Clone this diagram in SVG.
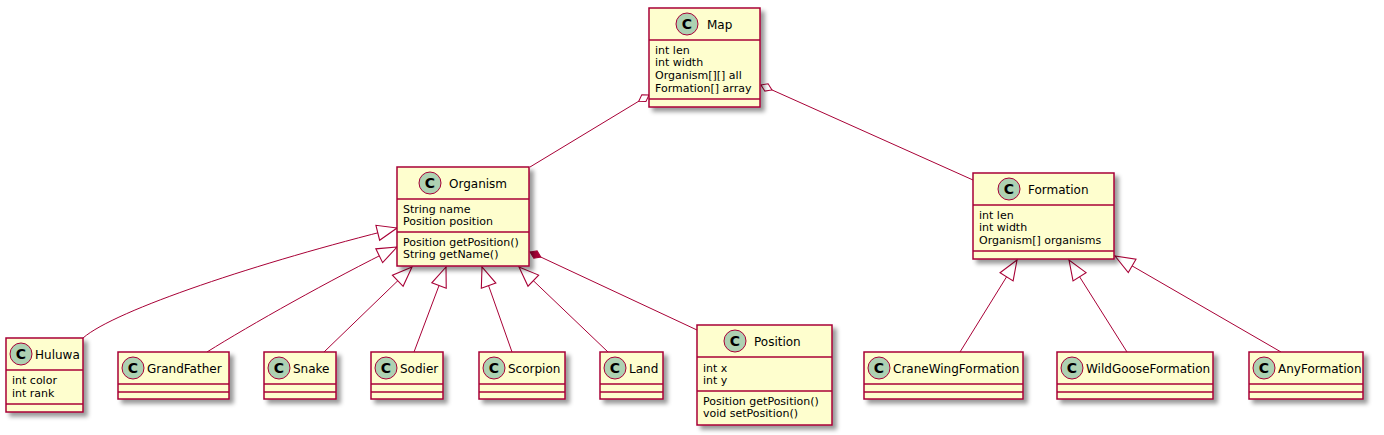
<svg xmlns="http://www.w3.org/2000/svg" width="1384" height="435" viewBox="0 0 1384 435">
<defs>
<filter id="sh" x="-1" y="-1" width="300%" height="300%">
<feGaussianBlur result="b1" stdDeviation="2"/>
<feColorMatrix type="matrix" in="b1" result="b2" values="0 0 0 0 0 0 0 0 0 0 0 0 0 0 0 0 0 0 .4 0"/>
<feOffset dx="4" dy="4" in="b2" result="b3"/>
<feBlend in="SourceGraphic" in2="b3" mode="normal"/>
</filter>
<marker id="tri" markerUnits="userSpaceOnUse" markerWidth="22" markerHeight="18" viewBox="-1 -8 20 16" refX="18" refY="0" orient="auto" overflow="visible">
<path d="M18,0 L0,-7 L0,7 Z" fill="#FFFFFF" stroke="#A80036" stroke-width="1"/>
</marker>
<marker id="agg" markerUnits="userSpaceOnUse" markerWidth="16" markerHeight="12" viewBox="-1 -6 14 12" refX="0" refY="0" orient="auto" overflow="visible">
<path d="M0,0 L6,-4 L12,0 L6,4 Z" fill="#FFFFFF" stroke="#A80036" stroke-width="1"/>
</marker>
<marker id="comp" markerUnits="userSpaceOnUse" markerWidth="16" markerHeight="12" viewBox="-1 -6 14 12" refX="0" refY="0" orient="auto" overflow="visible">
<path d="M0,0 L6,-4 L12,0 L6,4 Z" fill="#A80036" stroke="#A80036" stroke-width="1"/>
</marker>
</defs>
<style>
.box{fill:#FEFECE;stroke:#A80036;stroke-width:1.5;filter:url(#sh)}
.sep{stroke:#A80036;stroke-width:1.5}
.ci{fill:#ADD1B2;stroke:#A80036;stroke-width:1}
.cl{font-family:"DejaVu Sans",sans-serif;font-size:14px;font-weight:bold;fill:#000;text-anchor:middle}
.nm{font-family:"DejaVu Sans",sans-serif;font-size:12px;fill:#000}
.at{font-family:"DejaVu Sans",sans-serif;font-size:11px;fill:#000}
.ln{fill:none;stroke:#A80036;stroke-width:1}
</style>

<g id="connectors">
<path class="ln" d="M649,95 L530,167" marker-start="url(#agg)"/>
<path class="ln" d="M761,85 L973,180" marker-start="url(#agg)"/>
<path class="ln" d="M530,252 L697,330" marker-start="url(#comp)"/>
<path class="ln" d="M83,338 C115,310 260,262 397,228" marker-end="url(#tri)"/>
<path class="ln" d="M207,352 C250,325 330,280 397,247" marker-end="url(#tri)"/>
<path class="ln" d="M324,352 L412,267" marker-end="url(#tri)"/>
<path class="ln" d="M414,352 L446,267" marker-end="url(#tri)"/>
<path class="ln" d="M512,352 L482,267" marker-end="url(#tri)"/>
<path class="ln" d="M608,352 L519,267" marker-end="url(#tri)"/>
<path class="ln" d="M960,352 L1017,260" marker-end="url(#tri)"/>
<path class="ln" d="M1127,352 L1069,260" marker-end="url(#tri)"/>
<path class="ln" d="M1281,352 L1115,256" marker-end="url(#tri)"/>
</g>

<g id="Map">
<rect class="box" x="649" y="8" width="111" height="99"/>
<circle class="ci" cx="687" cy="24" r="11"/><text class="cl" x="687" y="29">C</text>
<text class="nm" x="707" y="29">Map</text>
<line class="sep" x1="649" y1="40" x2="760" y2="40"/>
<text class="at" x="655" y="53.5">int len</text>
<text class="at" x="655" y="66.4">int width</text>
<text class="at" x="655" y="79.3">Organism[][] all</text>
<text class="at" x="655" y="92.2">Formation[] array</text>
<line class="sep" x1="649" y1="99" x2="760" y2="99"/>
</g>

<g id="Organism">
<rect class="box" x="397" y="167" width="132" height="99"/>
<circle class="ci" cx="430" cy="183" r="11"/><text class="cl" x="430" y="188">C</text>
<text class="nm" x="449" y="188">Organism</text>
<line class="sep" x1="397" y1="199" x2="529" y2="199"/>
<text class="at" x="403" y="212.5">String name</text>
<text class="at" x="403" y="225.4">Position position</text>
<line class="sep" x1="397" y1="232" x2="529" y2="232"/>
<text class="at" x="403" y="245.5">Position getPosition()</text>
<text class="at" x="403" y="258.4">String getName()</text>
</g>

<g id="Formation">
<rect class="box" x="973" y="173" width="141" height="86"/>
<circle class="ci" cx="1009" cy="189" r="11"/><text class="cl" x="1009" y="194">C</text>
<text class="nm" x="1028" y="194">Formation</text>
<line class="sep" x1="973" y1="205" x2="1114" y2="205"/>
<text class="at" x="979" y="218.5">int len</text>
<text class="at" x="979" y="231.4">int width</text>
<text class="at" x="979" y="244.3">Organism[] organisms</text>
<line class="sep" x1="973" y1="251" x2="1114" y2="251"/>
</g>

<g id="Huluwa">
<rect class="box" x="6" y="338" width="77" height="74"/>
<circle class="ci" cx="21" cy="354" r="11"/><text class="cl" x="21" y="359">C</text>
<text class="nm" x="35" y="359">Huluwa</text>
<line class="sep" x1="6" y1="370" x2="83" y2="370"/>
<text class="at" x="12" y="384">int color</text>
<text class="at" x="12" y="397">int rank</text>
<line class="sep" x1="6" y1="404" x2="83" y2="404"/>
</g>

<g id="GrandFather">
<rect class="box" x="118" y="352" width="111" height="47"/>
<circle class="ci" cx="133" cy="368" r="11"/><text class="cl" x="133" y="373">C</text>
<text class="nm" x="147" y="373">GrandFather</text>
<line class="sep" x1="118" y1="384" x2="229" y2="384"/>
<line class="sep" x1="118" y1="392" x2="229" y2="392"/>
</g>

<g id="Snake">
<rect class="box" x="264" y="352" width="72" height="47"/>
<circle class="ci" cx="279" cy="368" r="11"/><text class="cl" x="279" y="373">C</text>
<text class="nm" x="293" y="373">Snake</text>
<line class="sep" x1="264" y1="384" x2="336" y2="384"/>
<line class="sep" x1="264" y1="392" x2="336" y2="392"/>
</g>

<g id="Sodier">
<rect class="box" x="371" y="352" width="72" height="47"/>
<circle class="ci" cx="386" cy="368" r="11"/><text class="cl" x="386" y="373">C</text>
<text class="nm" x="400" y="373">Sodier</text>
<line class="sep" x1="371" y1="384" x2="443" y2="384"/>
<line class="sep" x1="371" y1="392" x2="443" y2="392"/>
</g>

<g id="Scorpion">
<rect class="box" x="479" y="352" width="86" height="47"/>
<circle class="ci" cx="494" cy="368" r="11"/><text class="cl" x="494" y="373">C</text>
<text class="nm" x="508" y="373">Scorpion</text>
<line class="sep" x1="479" y1="384" x2="565" y2="384"/>
<line class="sep" x1="479" y1="392" x2="565" y2="392"/>
</g>

<g id="Land">
<rect class="box" x="600" y="352" width="63" height="47"/>
<circle class="ci" cx="615" cy="368" r="11"/><text class="cl" x="615" y="373">C</text>
<text class="nm" x="629" y="373">Land</text>
<line class="sep" x1="600" y1="384" x2="663" y2="384"/>
<line class="sep" x1="600" y1="392" x2="663" y2="392"/>
</g>

<g id="Position">
<rect class="box" x="697" y="325" width="135" height="100"/>
<circle class="ci" cx="735" cy="341" r="11"/><text class="cl" x="735" y="346">C</text>
<text class="nm" x="754" y="346">Position</text>
<line class="sep" x1="697" y1="357" x2="832" y2="357"/>
<text class="at" x="703" y="371.5">int x</text>
<text class="at" x="703" y="384.4">int y</text>
<line class="sep" x1="697" y1="391" x2="832" y2="391"/>
<text class="at" x="703" y="404.5">Position getPosition()</text>
<text class="at" x="703" y="417.4">void setPosition()</text>
</g>

<g id="CraneWingFormation">
<rect class="box" x="864" y="352" width="159" height="47"/>
<circle class="ci" cx="879" cy="368" r="11"/><text class="cl" x="879" y="373">C</text>
<text class="nm" x="893" y="373">CraneWingFormation</text>
<line class="sep" x1="864" y1="384" x2="1023" y2="384"/>
<line class="sep" x1="864" y1="392" x2="1023" y2="392"/>
</g>

<g id="WildGooseFormation">
<rect class="box" x="1057" y="352" width="156" height="47"/>
<circle class="ci" cx="1072" cy="368" r="11"/><text class="cl" x="1072" y="373">C</text>
<text class="nm" x="1086" y="373">WildGooseFormation</text>
<line class="sep" x1="1057" y1="384" x2="1213" y2="384"/>
<line class="sep" x1="1057" y1="392" x2="1213" y2="392"/>
</g>

<g id="AnyFormation">
<rect class="box" x="1249" y="352" width="114" height="47"/>
<circle class="ci" cx="1264" cy="368" r="11"/><text class="cl" x="1264" y="373">C</text>
<text class="nm" x="1278" y="373">AnyFormation</text>
<line class="sep" x1="1249" y1="384" x2="1363" y2="384"/>
<line class="sep" x1="1249" y1="392" x2="1363" y2="392"/>
</g>
</svg>
